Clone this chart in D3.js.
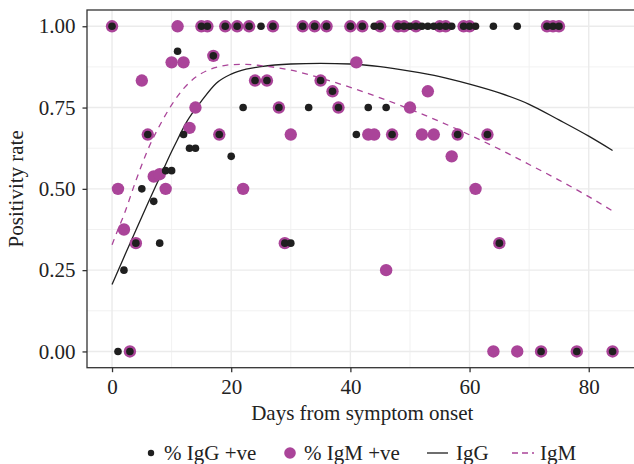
<!DOCTYPE html>
<html>
<head>
	<meta charset="utf-8">
	<title>Positivity rate</title>
	<script src="https://cdn.jsdelivr.net/npm/d3@7"></script>
	<style type="text/css">
		body {
			margin: 0;
			background: white;
		}
		text {
			font-family: "Liberation Serif", "DejaVu Serif", serif;
			fill: #222;
		}
	</style>
</head>
<body>
	<script type="text/javascript">
		// observed points: [day, rate]
		var iggPoints = [
			[0, 1], [1, 0], [2, 0.25], [3, 0], [4, 0.333], [5, 0.5], [6, 0.667], [7, 0.4615],
			[8, 0.333], [9, 0.556], [10, 0.556], [11, 0.923], [12, 0.667], [13, 0.625], [14, 0.625],
			[15, 1], [16, 1], [17, 0.909], [18, 0.667], [19, 1], [20, 0.6], [21, 1], [22, 0.75],
			[23, 1], [24, 0.833], [25, 1], [26, 0.833], [27, 1], [28, 0.75], [29, 0.333], [30, 0.333],
			[32, 1], [33, 0.75], [34, 1], [35, 0.833], [36, 1], [37, 0.8], [38, 0.75], [40, 1],
			[41, 0.667], [42, 1], [43, 0.75], [44, 1], [45, 1], [46, 0.75], [47, 0.667], [48, 1],
			[49, 1], [50, 1], [51, 1], [52, 1], [53, 1], [54, 1], [55, 1], [56, 1], [57, 1],
			[58, 0.667], [59, 1], [60, 1], [61, 1], [63, 0.667], [64, 1], [65, 0.333], [68, 1],
			[72, 0], [73, 1], [74, 1], [75, 1], [78, 0], [84, 0]
		];
		var igmPoints = [
			[0, 1], [1, 0.5], [2, 0.375], [3, 0], [4, 0.333], [5, 0.833], [6, 0.667], [7, 0.538],
			[8, 0.545], [9, 0.5], [10, 0.889], [11, 1], [12, 0.889], [13, 0.6875], [14, 0.75],
			[15, 1], [16, 1], [17, 0.909], [18, 0.667], [19, 1], [21, 1], [22, 0.5], [23, 1],
			[24, 0.833], [26, 0.833], [27, 1], [28, 0.75], [29, 0.333], [30, 0.667], [32, 1],
			[34, 1], [35, 0.833], [36, 1], [37, 0.8], [38, 0.75], [40, 1], [41, 0.889], [42, 1],
			[43, 0.667], [44, 0.667], [45, 1], [46, 0.25], [47, 0.667], [48, 1], [49, 1], [50, 0.75],
			[51, 1], [52, 0.667], [53, 0.8], [54, 0.667], [55, 1], [56, 1], [57, 0.6], [58, 0.667],
			[59, 1], [60, 1], [61, 0.5], [63, 0.667], [64, 0], [65, 0.333], [68, 0], [72, 0],
			[73, 1], [74, 1], [75, 1], [78, 0], [84, 0]
		];
		// fitted curves
		var iggCurve = [
			[0, 0.206], [2, 0.29], [4, 0.373], [6, 0.455], [8, 0.535], [10, 0.615], [11, 0.652],
			[12.5, 0.705], [15, 0.77], [17.5, 0.825], [20, 0.853], [22.5, 0.868], [25, 0.876],
			[30, 0.884], [35, 0.886], [40, 0.884], [45, 0.876], [50, 0.862], [55, 0.845],
			[60, 0.822], [65, 0.795], [70, 0.76], [75, 0.712], [80, 0.662], [84, 0.618]
		];
		var igmCurve = [
			[0, 0.328], [1, 0.375], [2, 0.42], [4, 0.525], [6, 0.62], [8, 0.695], [10, 0.758],
			[12, 0.808], [14, 0.843], [16, 0.864], [18, 0.876], [20, 0.882], [22.5, 0.883],
			[25, 0.879], [30, 0.865], [35, 0.841], [40, 0.812], [45, 0.78], [50, 0.745],
			[55, 0.707], [60, 0.666], [65, 0.622], [70, 0.575], [75, 0.527], [80, 0.476], [84, 0.432]
		];
		var xTicks = [0, 20, 40, 60, 80],
			xMinor = [10, 30, 50, 70],
			yTicks = [0, 0.25, 0.5, 0.75, 1],
			yMinor = [0.125, 0.375, 0.625, 0.875];

		var width = 634,
			height = 464,
			panelLeft = 87,
			panelRight = 637.6,
			panelTop = 10,
			panelBottom = 367.7,
			purple = "#aa4499",
			dark = "#1f1f1f";

		var svg = d3.select("body")
					.append("svg")
					.attr("width", width)
					.attr("height", height);

		var xScale = d3.scaleLinear()
			.domain([-4.2, 88.2])
			.range([panelLeft, panelRight]);
		var yScale = d3.scaleLinear()
			.domain([-0.05, 1.05])
			.range([panelBottom, panelTop]);

		// grid
		function vLines(vals, col, w) {
			svg.append("g").selectAll("line")
				.data(vals)
				.enter()
				.append("line")
				.attr("x1", function (d) { return xScale(d); })
				.attr("x2", function (d) { return xScale(d); })
				.attr("y1", panelTop)
				.attr("y2", panelBottom)
				.attr("stroke", col)
				.attr("stroke-width", w);
		}
		function hLines(vals, col, w) {
			svg.append("g").selectAll("line")
				.data(vals)
				.enter()
				.append("line")
				.attr("x1", panelLeft)
				.attr("x2", panelRight)
				.attr("y1", function (d) { return yScale(d); })
				.attr("y2", function (d) { return yScale(d); })
				.attr("stroke", col)
				.attr("stroke-width", w);
		}
		vLines(xMinor, "#efefef", 0.9);
		hLines(yMinor, "#efefef", 0.9);
		vLines(xTicks, "#ebebeb", 1.4);
		hLines(yTicks, "#ebebeb", 1.4);

		// fitted lines
		var line = d3.line()
			.x(function (d) { return xScale(d[0]); })
			.y(function (d) { return yScale(d[1]); })
			.curve(d3.curveMonotoneX);

		svg.append("path")
			.datum(iggCurve)
			.attr("d", line)
			.attr("fill", "none")
			.attr("stroke", dark)
			.attr("stroke-width", 1.3);
		svg.append("path")
			.datum(igmCurve)
			.attr("d", line)
			.attr("fill", "none")
			.attr("stroke", purple)
			.attr("stroke-width", 1.3)
			.attr("stroke-dasharray", "6,5.5");

		// points: IgM underneath, IgG on top
		svg.append("g")
			.selectAll("circle")
			.data(igmPoints)
			.enter()
			.append("circle")
			.attr("cx", function (d) { return xScale(d[0]); })
			.attr("cy", function (d) { return yScale(d[1]); })
			.attr("r", 6.2)
			.attr("fill", purple);
		svg.append("g")
			.selectAll("circle")
			.data(iggPoints)
			.enter()
			.append("circle")
			.attr("cx", function (d) { return xScale(d[0]); })
			.attr("cy", function (d) { return yScale(d[1]); })
			.attr("r", 3.8)
			.attr("fill", dark);

		// panel border
		svg.append("rect")
			.attr("x", panelLeft)
			.attr("y", panelTop)
			.attr("width", panelRight - panelLeft)
			.attr("height", panelBottom - panelTop)
			.attr("fill", "none")
			.attr("stroke", "#333")
			.attr("stroke-width", 1.3);

		// axes
		var xAxis = d3.axisBottom(xScale)
			.tickValues(xTicks)
			.tickSize(4.5)
			.tickPadding(7);
		var yAxis = d3.axisLeft(yScale)
			.tickValues(yTicks)
			.tickFormat(d3.format(".2f"))
			.tickSize(4.5)
			.tickPadding(7);

		var xAxisG = svg.append("g")
			.attr("transform", "translate(0," + panelBottom + ")")
			.call(xAxis);
		var yAxisG = svg.append("g")
			.attr("transform", "translate(" + panelLeft + ",0)")
			.call(yAxis);
		[xAxisG, yAxisG].forEach(function (g) {
			g.select(".domain").remove();
			g.selectAll(".tick line").attr("stroke", "#333").attr("stroke-width", 1.3);
			g.selectAll(".tick text")
				.attr("fill", "#444")
				.style("font-size", "21px")
				.style("font-family", "Liberation Serif, serif");
		});

		// titles
		svg.append("text")
			.attr("x", (panelLeft + panelRight) / 2)
			.attr("y", 420)
			.attr("text-anchor", "middle")
			.style("font-size", "21px")
			.text("Days from symptom onset");
		svg.append("text")
			.attr("transform", "translate(23," + ((panelTop + panelBottom) / 2) + ") rotate(-90)")
			.attr("text-anchor", "middle")
			.style("font-size", "21px")
			.text("Positivity rate");

		// legend
		var legend = svg.append("g").attr("transform", "translate(0,453)");
		legend.append("circle")
			.attr("cx", 151)
			.attr("cy", 0)
			.attr("r", 3.2)
			.attr("fill", dark);
		legend.append("text")
			.attr("x", 164)
			.attr("y", 7)
			.style("font-size", "21px")
			.text("% IgG +ve");
		legend.append("circle")
			.attr("cx", 290)
			.attr("cy", 0)
			.attr("r", 5.8)
			.attr("fill", purple);
		legend.append("text")
			.attr("x", 304)
			.attr("y", 7)
			.style("font-size", "21px")
			.text("% IgM +ve");
		legend.append("line")
			.attr("x1", 427)
			.attr("x2", 448)
			.attr("y1", 0)
			.attr("y2", 0)
			.attr("stroke", dark)
			.attr("stroke-width", 1.3);
		legend.append("text")
			.attr("x", 456)
			.attr("y", 7)
			.style("font-size", "21px")
			.text("IgG");
		legend.append("line")
			.attr("x1", 512)
			.attr("x2", 534)
			.attr("y1", 0)
			.attr("y2", 0)
			.attr("stroke", purple)
			.attr("stroke-width", 1.3)
			.attr("stroke-dasharray", "6,4");
		legend.append("text")
			.attr("x", 540)
			.attr("y", 7)
			.style("font-size", "21px")
			.text("IgM");
	</script>
</body>
</html>
